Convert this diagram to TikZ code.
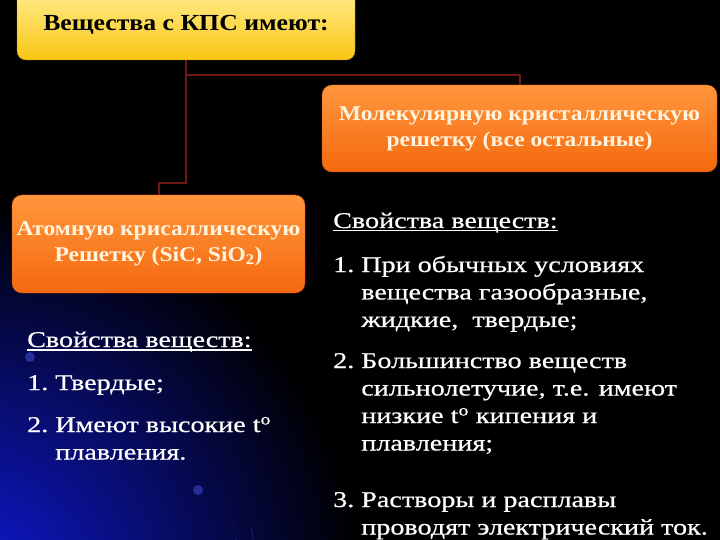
\documentclass[tikz,border=0pt]{standalone}
\usepackage{fontspec}
\setmainfont{Liberation Serif}[FakeStretch=1.12]
\newfontfamily\listfont{Liberation Serif}[FakeStretch=1.25, FakeBold=0.6]
\usepackage{tikz}
\usetikzlibrary{calc}

\definecolor{linkred}{RGB}{110,25,20}
\definecolor{yellowtop}{RGB}{255,236,140}
\definecolor{yellowbot}{RGB}{250,198,20}
\definecolor{orangetop}{RGB}{255,150,60}
\definecolor{orangebot}{RGB}{245,105,15}
\definecolor{cream}{RGB}{255,244,222}
\definecolor{glowblue}{RGB}{15,25,215}
\definecolor{arcblue}{RGB}{60,70,200}

\newcommand{\numitem}[2]{\begin{tabular}[t]{@{}l@{\hspace{7pt}}l@{}}#1&\begin{tabular}[t]{@{}l@{}}#2\end{tabular}\end{tabular}}
\newcommand{\uline}[1]{\setbox0\hbox{#1}\rlap{\rule[-3.5pt]{\wd0}{1.6pt}}\box0}

\begin{document}
\begin{tikzpicture}[x=1pt,y=-1pt,
    headbox/.style={draw=yellowbot!70!black, rounded corners=9pt, top color=yellowtop, bottom color=yellowbot, minimum width=338pt, minimum height=70pt, text=black, font=\bfseries\fontsize{23}{27}\selectfont},
    typebox/.style={draw=orangebot!80!black, rounded corners=10pt, top color=orangetop, bottom color=orangebot, text=cream, align=center, font=\bfseries\fontsize{21}{26}\selectfont},
    listnode/.style={anchor=base west, inner sep=0pt, text=white, font=\listfont\fontsize{22.5}{27.5}\selectfont},
    link/.style={draw=linkred, line width=2pt}]
    \useasboundingbox (0,0) rectangle (720,540);
    % background
    \begin{scope}
        \clip (0,0) rectangle (720,540);
        \fill[black] (0,0) rectangle (720,540);
        \shade[inner color=glowblue, outer color=black] (-30,590) circle (390);
        \draw[arcblue, opacity=.45, line width=1.5pt] (10,570) ++(100:210) arc (100:-5:210);
        \draw[arcblue, opacity=.35, line width=1pt] (10,570) ++(105:228) arc (105:-8:228);
        \draw[arcblue, opacity=.3, line width=1pt] (10,570) ++(110:245) arc (110:-10:245);
        \fill[arcblue, opacity=.6] (30,357) circle (5);
        \fill[arcblue, opacity=.6] (198,490) circle (5);
    \end{scope}

    \node[headbox] (kps) at (186,25) {Вещества с КПС имеют:};
    \node[typebox, minimum width=395pt, minimum height=87pt] (mol) at (519.5,128.5) {Молекулярную кристаллическую\\решетку (все остальные)};
    \node[typebox, minimum width=293pt, minimum height=98pt, inner sep=0pt] (atom) at (158.5,244) {Атомную крисаллическую\\Решетку (SiC, SiO\textsubscript{2})};

    \coordinate (split) at (186,183);
    \coordinate (branch) at (186,75);
    \draw[link] (kps.south) -- (split) -| (atom.north);
    \draw[link] (branch) -| (mol.north);

    % left column
    \node[listnode] (atomprops) at (27,347) {\uline{Свойства веществ:}};
    \node[listnode] (a1) at (27,390) {\numitem{1.}{Твердые;}};
    \node[listnode] (a2) at (27,432) {\numitem{2.}{Имеют высокие t\textsuperscript{o}\\плавления.}};

    % right column
    \node[listnode] (molprops) at (333,228) {\uline{Свойства веществ:}};
    \node[listnode] (m1) at (333,272) {\numitem{1.}{При обычных условиях\\вещества газообразные,\\жидкие,\ \ твердые;}};
    \node[listnode] (m2) at (333,368) {\numitem{2.}{Большинство веществ\\сильнолетучие, т.е. имеют\\низкие t\textsuperscript{o} кипения и\\плавления;}};
    \node[listnode] (m3) at (333,507) {\numitem{3.}{Растворы и расплавы\\проводят электрический ток.}};
\end{tikzpicture}
\end{document}
